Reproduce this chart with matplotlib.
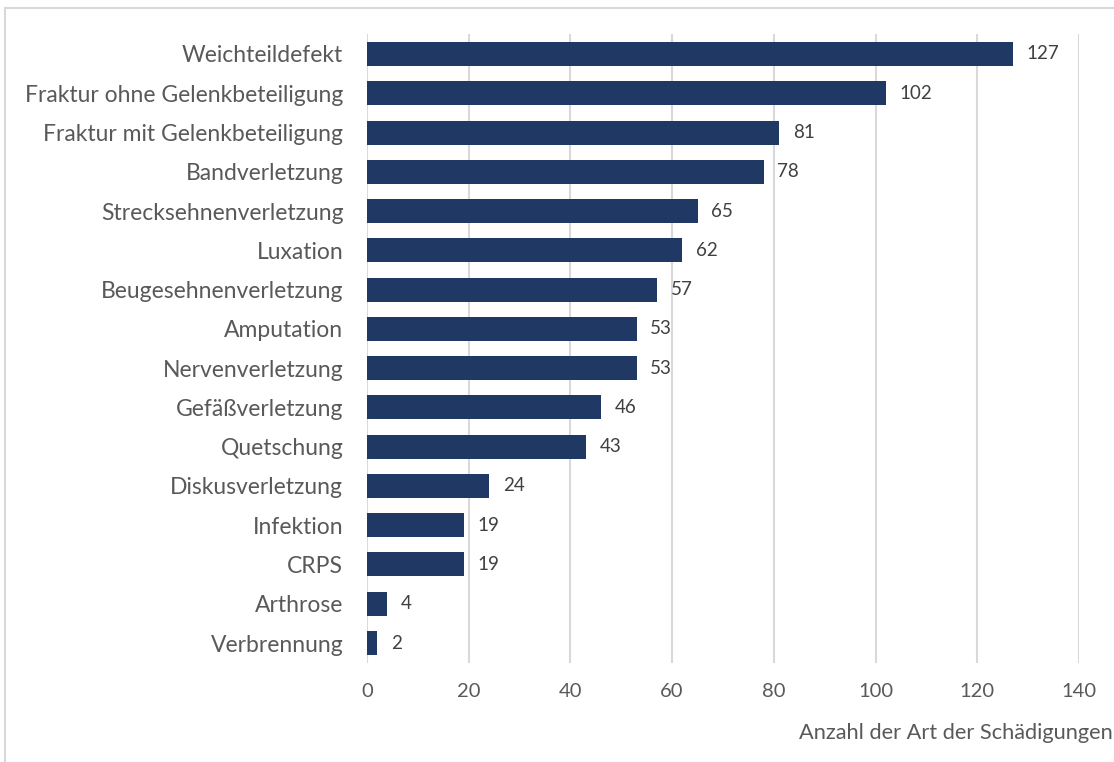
import matplotlib.pyplot as plt
from matplotlib.patches import Rectangle

categories = [
    "Weichteildefekt", "Fraktur ohne Gelenkbeteiligung", "Fraktur mit Gelenkbeteiligung",
    "Bandverletzung", "Strecksehnenverletzung", "Luxation", "Beugesehnenverletzung",
    "Amputation", "Nervenverletzung", "Gefäßverletzung", "Quetschung",
    "Diskusverletzung", "Infektion", "CRPS", "Arthrose", "Verbrennung",
]
counts = [127, 102, 81, 78, 65, 62, 57, 53, 53, 46, 43, 24, 19, 19, 4, 2]
x_ticks = [0, 20, 40, 60, 80, 100, 120, 140]

plt.rcParams['font.family'] = ['Lato', 'DejaVu Sans']

fig = plt.figure(figsize=(11.14, 7.62), dpi=100)
ax = fig.add_axes([0.3294, 0.1304, 0.6392, 0.8245])

# outer chart frame
fig.patches.append(Rectangle((5 / 1114, -0.05), 1.2, 1 - 8 / 762 + 0.05,
                             transform=fig.transFigure, fill=False,
                             edgecolor='#d9d9d9', linewidth=1.5))

pos = list(range(len(categories)))
ax.barh(pos, counts, height=0.61, color='#203864', zorder=3)
for y, v in zip(pos, counts):
    ax.text(v + 2.7, y, str(v), va='center', ha='left', fontsize=13.5, color='#404040')

ax.set_ylim(len(categories) - 0.5, -0.5)
ax.set_xlim(0, 140)
ax.set_yticks(pos)
ax.set_yticklabels(categories, fontsize=16.5, color='#595959')
ax.set_xticks(x_ticks)
ax.set_xticklabels([str(t) for t in x_ticks], fontsize=14.5, color='#595959')
ax.tick_params(axis='y', length=0, pad=17)
ax.tick_params(axis='x', length=0, pad=15)
ax.grid(axis='x', color='#d9d9d9', linewidth=1.5, zorder=0)
for s in ax.spines.values():
    s.set_visible(False)

fig.text(1113 / 1114, 1 - 733 / 762, "Anzahl der Art der Schädigungen", ha='right', va='center',
         fontsize=15.7, color='#595959')

fig.savefig('out.png', dpi=100)
